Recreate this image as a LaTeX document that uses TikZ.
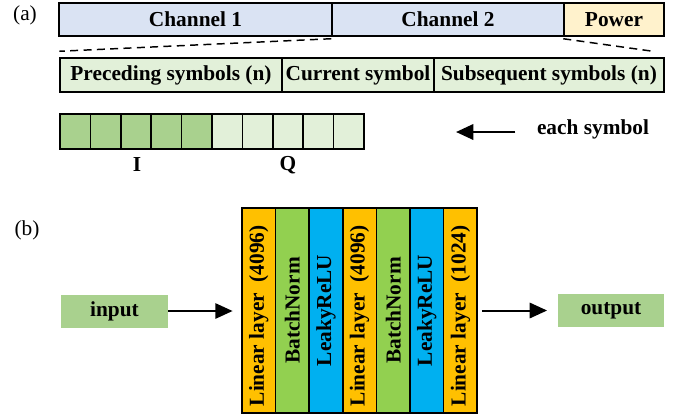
\documentclass[tikz,border=0pt]{standalone}
\usepackage{fontspec}
\setmainfont{Liberation Serif}
\usepackage{graphicx}
\usetikzlibrary{arrows.meta}
\definecolor{chanBlue}{RGB}{218,227,243}
\definecolor{powYellow}{RGB}{255,242,204}
\definecolor{paleGreen}{RGB}{226,240,217}
\definecolor{midGreen}{RGB}{169,209,142}
\definecolor{layOrange}{RGB}{255,192,0}
\definecolor{normGreen}{RGB}{146,208,80}
\definecolor{reluBlue}{RGB}{0,176,240}
\tikzset{
  >={Triangle[length=13pt,width=11.5pt]},
  txt/.style={font=\fontsize{16}{19}\selectfont\bfseries},
  box/.style={txt, draw, line width=1.1pt, inner sep=0pt, minimum height=24.75pt},
  cell/.style={draw, line width=1.1pt, inner sep=0pt, minimum width=22.8pt, minimum height=26.25pt},
  layer/.style={box, minimum width=25.2pt, minimum height=153.75pt},
  iobox/.style={txt, fill=midGreen, inner sep=0pt, minimum width=80.25pt, minimum height=24.75pt},
  arr/.style={line width=1.5pt, ->},
}

\begin{document}
\begin{tikzpicture}[x=0.75pt,y=-0.75pt]%
\useasboundingbox (0,0) rectangle (685,419);%
% (a)
\node[font=\fontsize{16}{19}\selectfont] (tagA) at (25,15) {(a)};%
\node[box, fill=chanBlue, minimum width=204.75pt] (ch1) at (195.5,19.5) {Channel 1};%
\node[box, fill=chanBlue, minimum width=174pt] (ch2) at (448,19.5) {Channel 2};%
\node[box, fill=powYellow, minimum width=75pt] (pow) at (614,19.5) {Power};%
\node[box, fill=paleGreen, minimum width=166.5pt, minimum height=25.5pt] (prec) at (171,75) {Preceding symbols (n)};%
\node[box, fill=paleGreen, minimum width=114pt, minimum height=25.5pt] (cur) at (358,75) {Current symbol};%
\node[box, fill=paleGreen, minimum width=172.5pt, minimum height=25.5pt] (subs) at (549,75) {Subsequent symbols (n)};%
\draw[line width=1.1pt, dash pattern=on 6pt off 4pt] ([yshift=-1.5pt]ch2.south west) -- ([yshift=4.5pt]prec.north west);%
\draw[line width=1.1pt, dash pattern=on 6pt off 4pt] ([yshift=-1.5pt]pow.south west) -- ([xshift=-9pt,yshift=4.5pt]subs.north east);%
\foreach \i in {0,...,4}
  \node[cell, fill=midGreen] (sq\i) at ({75.2+30.4*\i},131.5) {};%
\foreach \i in {5,...,9}
  \node[cell, fill=paleGreen] (sq\i) at ({75.2+30.4*\i},131.5) {};%
\node[txt] (iLbl) at (137,165) {I};%
\node[txt] (qLbl) at (288,165) {Q};%
\node[txt] (each) at (593,129) {each symbol};%
\coordinate (eachTip) at (456,132);%
\draw[arr, line width=1.9pt] ([xshift=-12.75pt,yshift=-2.25pt]each.west) -- (eachTip);%
% (b)
\node[font=\fontsize{16}{19}\selectfont] (tagB) at (27,230) {(b)};%
\foreach \lbl/\clr [count=\i from 0] in {%
  {Linear layer\hspace{0.5em}(4096)\hspace{0.5em}}/layOrange, BatchNorm/normGreen, LeakyReLU/reluBlue,%
  {Linear layer\hspace{0.5em}(4096)\hspace{0.5em}}/layOrange, BatchNorm/normGreen, LeakyReLU/reluBlue,%
  {Linear layer\hspace{0.5em}(1024)\hspace{0.5em}}/layOrange}
  \node[layer, fill=\clr] (lay\i) at ({258.8+33.6*\i},310.5) {\rotatebox{90}{\lbl}};%
\node[iobox] (input) at (114.5,311) {input};%
\node[iobox, minimum width=79.5pt] (output) at (611,310.5) {output};%
\draw[arr, shorten >=6.5pt] (input.east) -- (lay0.west |- input.east);%
\draw[arr, shorten <=3pt, shorten >=8pt] (lay6.east |- output.west) -- (output.west);%
\end{tikzpicture}
\end{document}
